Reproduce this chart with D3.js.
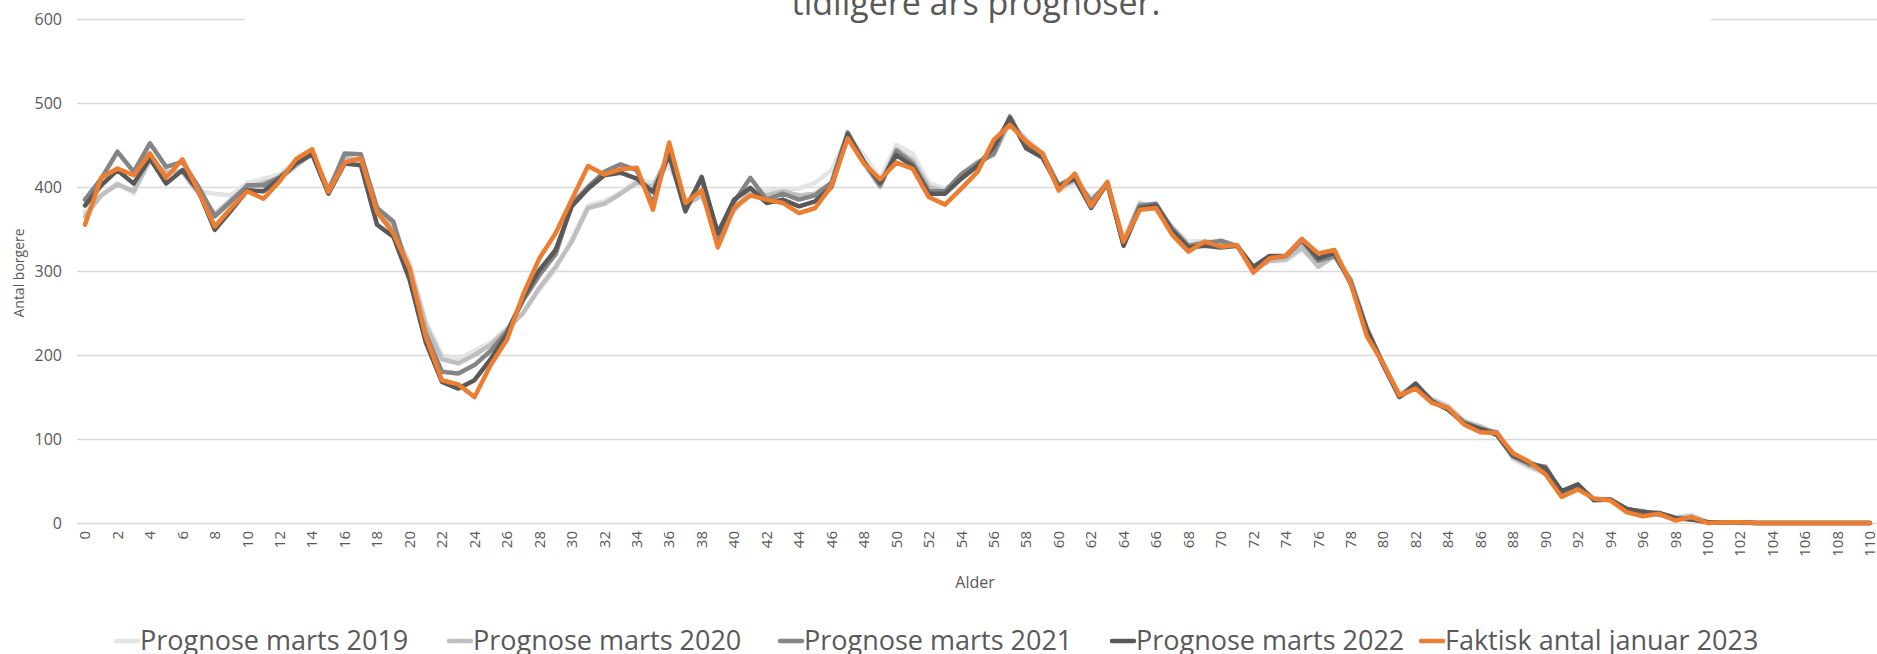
<!DOCTYPE html>
<html>
<head>
<meta charset="utf-8">
<script src="https://cdn.jsdelivr.net/npm/d3@7.9.0/dist/d3.min.js"></script>
<style>
  body { margin: 0; background: #fff; }
  svg { display: block; font-family: "Open Sans", "Noto Sans", sans-serif; }
</style>
</head>
<body>
<svg id="chart" width="1877" height="654"></svg>
<script>
// ages 0..110
const ages = d3.range(0, 111);

const seriesNames = ["Prognose marts 2019", "Prognose marts 2020", "Prognose marts 2021", "Prognose marts 2022", "Faktisk antal januar 2023"];
const seriesColors = ["#e4e4e4", "#bfbfbf", "#858585", "#595959", "#ed7d31"];

const prog2019 = [370,390,405,392,432,418,420,395,392,390,405,410,415,430,440,398,435,432,375,350,310,240,200,195,205,215,232,250,278,302,338,378,383,393,408,405,425,385,392,350,375,398,395,398,398,405,420,460,438,410,450,440,405,398,410,425,445,475,458,440,395,405,388,400,338,382,372,352,335,336,333,328,300,312,312,325,308,318,290,232,190,155,162,148,140,122,115,105,76,66,58,34,42,30,27,15,12,12,7,10,1,0,0,0,0,0,0,0,0,0,0];
const prog2020 = [365,390,403,395,432,418,418,392,368,385,400,405,410,425,440,398,435,432,375,350,305,235,195,190,200,212,230,250,280,305,335,375,380,392,405,400,440,378,390,345,372,395,390,395,390,392,405,462,428,400,445,432,400,395,415,430,438,478,455,438,398,408,385,403,335,380,375,352,330,335,332,330,302,312,314,328,305,318,290,232,188,152,163,147,138,120,115,106,78,68,60,35,42,28,27,16,12,11,6,8,1,1,0,0,0,0,0,0,0,0,0];
const prog2021 = [385,410,442,418,452,424,430,400,365,383,402,402,412,428,440,395,440,439,375,359,295,225,180,178,188,205,228,265,295,320,380,400,418,427,420,380,445,375,410,338,382,411,385,392,385,390,405,465,430,402,443,428,395,395,415,428,440,484,448,440,402,412,382,405,332,378,380,350,330,333,336,330,303,315,318,336,312,318,288,230,190,150,162,145,135,120,112,108,80,70,67,36,44,28,28,16,14,10,5,5,1,1,1,0,0,0,0,0,0,0,0];
const prog2022 = [378,402,420,404,434,404,420,395,349,372,396,395,410,428,439,392,428,426,355,341,290,215,168,160,170,195,225,268,301,325,377,398,414,417,410,394,438,371,412,345,385,399,381,385,377,383,400,463,430,405,438,425,392,392,410,425,448,482,446,435,400,410,375,405,330,375,378,348,328,330,328,330,305,318,318,338,315,322,285,230,188,150,166,145,135,118,112,105,80,72,65,38,46,27,28,17,13,12,6,4,1,1,1,0,0,0,0,0,0,0,0];
const faktisk2023 = [355,411,422,414,440,411,433,395,353,375,395,386,407,433,445,394,429,434,370,345,303,222,170,165,150,188,218,272,315,345,385,425,415,421,423,373,453,381,396,328,375,390,385,381,369,375,401,458,428,409,429,422,388,379,398,418,456,474,454,440,396,416,377,406,335,373,375,343,323,335,329,331,298,315,318,338,321,325,285,222,190,152,160,143,137,117,108,107,83,73,58,31,40,29,27,13,8,11,3,7,0,1,1,0,0,0,0,0,0,0,0];

const allSeries = [prog2019, prog2020, prog2021, prog2022, faktisk2023];
const yTicks = [0, 100, 200, 300, 400, 500, 600];

const svg = d3.select("#chart");
const textColor = "#595959";

const plotLeft = 77, plotRight = 1878;
const x = d3.scalePoint().domain(ages).range([85, 1870]);
const y = d3.scaleLinear().domain([0, 600]).range([523, 19]);

// y axis + gridlines
const yAxis = svg.append("g")
  .attr("transform", `translate(${plotLeft},0)`)
  .call(d3.axisLeft(y).tickValues(yTicks).tickSize(-(plotRight - plotLeft)).tickPadding(15));
yAxis.select(".domain").remove();
yAxis.selectAll(".tick line").attr("stroke", "#d9d9d9").attr("stroke-width", 1.5);
yAxis.selectAll(".tick text").attr("fill", textColor).attr("font-size", 16)
  .attr("font-family", "'Open Sans', sans-serif");

// x tick labels (every 2 years), rotated
const xLabels = svg.append("g");
xLabels.selectAll("text")
  .data(ages.filter(a => a % 2 === 0))
  .join("text")
  .attr("transform", d => `translate(${x(d)},531) rotate(-90)`)
  .attr("text-anchor", "end")
  .attr("dy", "0.35em")
  .attr("fill", textColor)
  .attr("font-size", 15)
  .text(d => d);

// lines
const line = d3.line().x((d, i) => x(ages[i])).y(d => y(d));
svg.append("g").selectAll("path")
  .data(allSeries)
  .join("path")
  .attr("d", d => line(d))
  .attr("fill", "none")
  .attr("stroke", (d, i) => seriesColors[i])
  .attr("stroke-width", 4.5)
  .attr("stroke-linejoin", "round")
  .attr("stroke-linecap", "round");

// title box (covers the top gridline)
svg.append("rect").attr("x", 245).attr("y", 0).attr("width", 1711 - 245).attr("height", 26).attr("fill", "#fff");
svg.append("text")
  .attr("x", 976).attr("y", 15)
  .attr("text-anchor", "middle")
  .attr("fill", textColor)
  .attr("font-size", 34)
  .text("tidligere års prognoser.");

// axis titles
svg.append("text")
  .attr("x", 975).attr("y", 588)
  .attr("text-anchor", "middle")
  .attr("fill", textColor)
  .attr("font-size", 16)
  .text("Alder");

svg.append("text")
  .attr("transform", "translate(24,273) rotate(-90)")
  .attr("text-anchor", "middle")
  .attr("fill", textColor)
  .attr("font-size", 14)
  .text("Antal borgere");

// legend
const legendX = [116, 449, 780, 1112, 1421];
const legend = svg.append("g");
seriesNames.forEach((name, i) => {
  legend.append("line")
    .attr("x1", legendX[i]).attr("x2", legendX[i] + 22)
    .attr("y1", 641).attr("y2", 641)
    .attr("stroke", seriesColors[i])
    .attr("stroke-width", 4.5)
    .attr("stroke-linecap", "round");
  legend.append("text")
    .attr("x", legendX[i] + 24).attr("y", 650)
    .attr("fill", textColor)
    .attr("font-size", 27)
    .text(name);
});
</script>
</body>
</html>
